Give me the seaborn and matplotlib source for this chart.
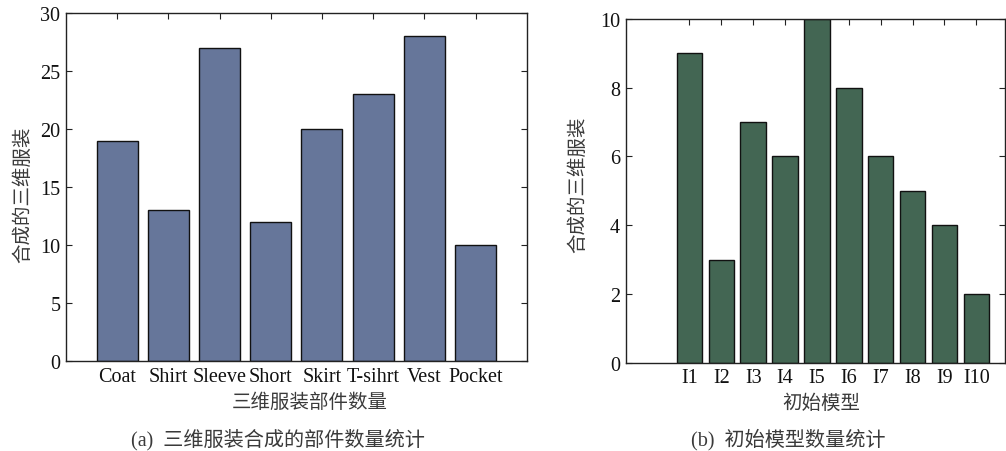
import matplotlib
matplotlib.use("Agg")
import matplotlib.pyplot as plt
import seaborn as sns
import pandas as pd

# data
parts = ["Coat", "Shirt", "Sleeve", "Short", "Skirt", "T-sihrt", "Vest", "Pocket"]
part_counts = [19, 13, 27, 12, 20, 23, 28, 10]
models = ["I1", "I2", "I3", "I4", "I5", "I6", "I7", "I8", "I9", "I10"]
model_counts = [9, 3, 7, 6, 10, 8, 6, 5, 4, 2]
left_yticks = [0, 5, 10, 15, 20, 25, 30]
right_yticks = [0, 2, 4, 6, 8, 10]

sns.set_style("white")
plt.rcParams["font.family"] = ["Liberation Serif", "Noto Sans CJK SC"]

SERIF = ["Liberation Serif", "Noto Sans CJK SC"]
CJK = ["Noto Sans CJK SC", "Liberation Serif"]
TXT = "#3a3a3a"

fig = plt.figure(figsize=(10.06, 4.52), dpi=100)
ax1 = fig.add_axes([0.0656, 0.199, 0.458, 0.770])
ax2 = fig.add_axes([0.622, 0.195, 0.377, 0.761])

df1 = pd.DataFrame({"part": parts, "count": part_counts})
df2 = pd.DataFrame({"model": models, "count": model_counts})

sns.barplot(data=df1, x="part", y="count", ax=ax1, color="#66769A",
            saturation=1, width=0.8, edgecolor="#111111", linewidth=1.0)
sns.barplot(data=df2, x="model", y="count", ax=ax2, color="#436653",
            saturation=1, width=0.8, edgecolor="#111111", linewidth=1.0)

ax1.set_xlim(-1, 8)
ax1.set_ylim(0, 30)
ax1.set_yticks(left_yticks)
ax2.set_xlim(-2, 9.9)
ax2.set_ylim(0, 10)
ax2.set_yticks(right_yticks)

for ax in (ax1, ax2):
    for s in ax.spines.values():
        s.set_visible(True)
        s.set_color("#222222")
        s.set_linewidth(1.0)
    ax.tick_params(direction="in", top=True, right=True, bottom=True, left=True,
                   length=4, width=0.8, color="#222222", labelsize=14.5, pad=4,
                   labelcolor="#111111")
    for lab in ax.get_xticklabels() + ax.get_yticklabels():
        lab.set_family(SERIF)

ax1.set_xlabel("三维服装部件数量", family=CJK, fontsize=14, color=TXT, va="top")
ax1.xaxis.set_label_coords(0.53, -0.086)
ax1.set_ylabel("合成的三维服装", family=CJK, fontsize=14, color=TXT)
ax1.yaxis.set_label_coords(-0.07, 0.48)

ax2.set_xlabel("初始模型", family=CJK, fontsize=14, color=TXT, va="top")
ax2.xaxis.set_label_coords(0.517, -0.086)
ax2.set_ylabel("合成的三维服装", family=CJK, fontsize=14, color=TXT)
ax2.yaxis.set_label_coords(-0.1, 0.52)

fig.text(0.2765, 1 - 440 / 452, "(a)  三维服装合成的部件数量统计", family=SERIF,
         fontsize=14.5, color=TXT, ha="center", va="center")
fig.text(0.784, 1 - 440 / 452, "(b)  初始模型数量统计", family=SERIF,
         fontsize=14.5, color=TXT, ha="center", va="center")

fig.savefig("out.png", dpi=100, facecolor="white")
